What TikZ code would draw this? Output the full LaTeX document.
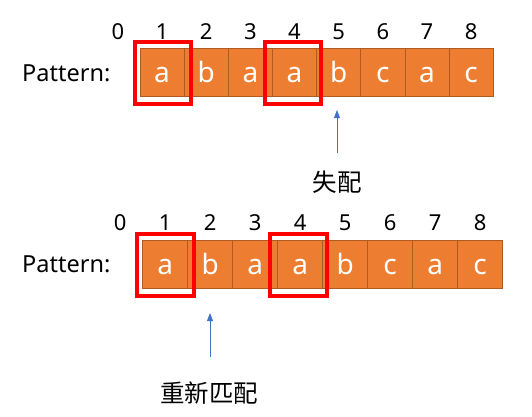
\documentclass[tikz,border=0pt]{standalone}
\usepackage{fontspec}
\setmainfont{Noto Sans}
\newfontfamily\cjk{Noto Sans CJK SC}
\usetikzlibrary{arrows.meta}

\definecolor{cellfill}{HTML}{ED7D31}
\definecolor{cellline}{HTML}{AE5A21}
\definecolor{boxred}{HTML}{FF0000}
\definecolor{arrowblue}{HTML}{4472C4}

\begin{document}
\begin{tikzpicture}
  [x=1pt, y=-1pt,
   cell/.style={draw=cellline, fill=cellfill, text=white, line width=0.8pt,
                minimum width=#1, minimum height=48.4pt, inner sep=0pt,
                outer sep=0pt, text height=19.6pt, text depth=0pt,
                font=\fontsize{28}{28}\selectfont},
   num/.style={anchor=base, inner sep=0pt, font=\fontsize{22}{22}\selectfont},
   label/.style={anchor=west, inner sep=0pt, font=\fontsize{23.5}{24}\selectfont},
   redbox/.style={draw=boxred, line width=4pt, minimum width=#1,
                  minimum height=62.5pt, inner sep=0pt},
   note/.style={inner sep=0pt, font=\cjk\fontsize{24.5}{25}\selectfont},
   arr/.style={draw=arrowblue, line width=0.9pt,
               -{Triangle[length=8pt, width=6pt]}}
  ]
  \useasboundingbox (0,0) rectangle (532,417);

  % first row: mismatch
  \node[label] (pt) at (22,73) {Pattern:};
  \foreach \i in {0,...,8}
    \node[num] (tn\i) at ({140+44.15*(\i-0.5)}, 39.3) {\i};
  \foreach \ch [count=\i] in {a,b,a,a,b,c,a,c}
    \node[cell=44.15pt] (t\i) at ({140+44.15*(\i-0.5)}, 72.5) {\ch};
  \node[redbox=56pt] (tr1) at (162.7,73) {};
  \node[redbox=56pt] (tr4) at (293.3,73) {};

  \node[note] (miss) at (337,182) {失配};
  \coordinate (mtail) at (337,153);
  \coordinate (mtip)  at (337,110);
  \path[arr] (mtail) -- (mtip);

  % second row: shifted, match again
  \node[label] (pb) at (22,264) {Pattern:};
  \foreach \i in {0,...,8}
    \node[num] (bn\i) at ({142.7+45*(\i-0.5)}, 230.7) {\i};
  \foreach \ch [count=\i] in {a,b,a,a,b,c,a,c}
    \node[cell=45pt] (b\i) at ({142.7+45*(\i-0.5)}, 264.2) {\ch};
  \node[redbox=57pt] (br1) at (165.5,264.8) {};
  \node[redbox=57pt] (br4) at (298.3,264.8) {};

  \node[note] (again) at (209,393) {重新匹配};
  \coordinate (atail) at (210,357);
  \coordinate (atip)  at (210,313);
  \path[arr] (atail) -- (atip);
\end{tikzpicture}
\end{document}
